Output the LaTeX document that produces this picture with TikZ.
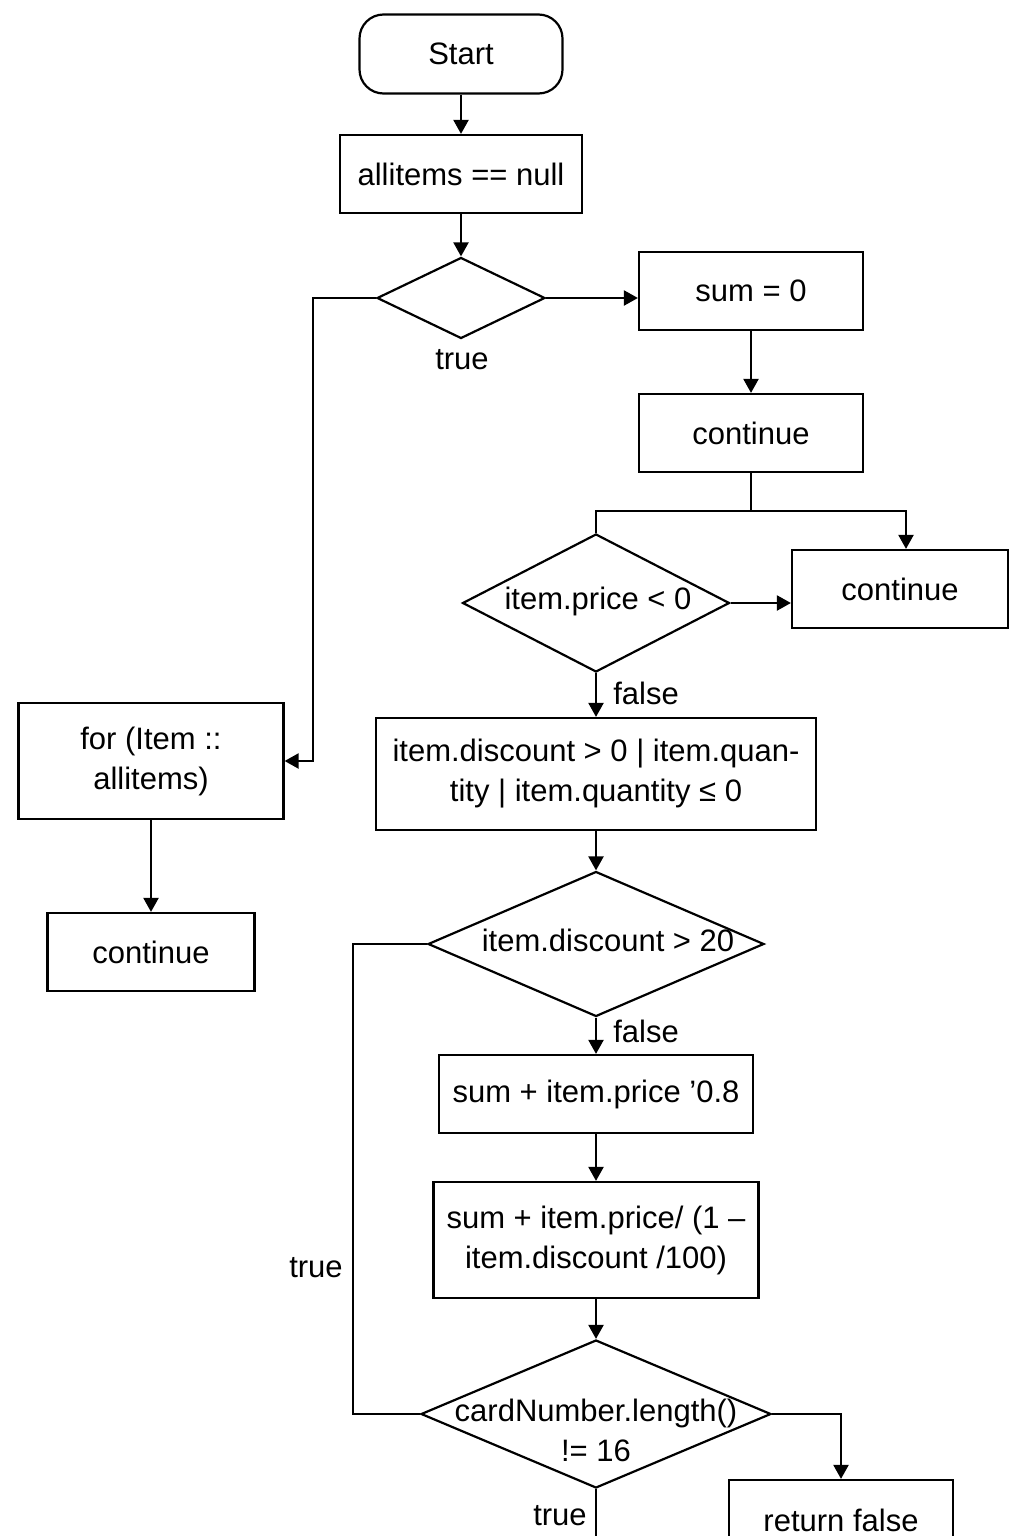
\documentclass[tikz,border=0pt]{standalone}
\usepackage{fontspec}
\setmainfont{Liberation Sans}
\usetikzlibrary{shapes.geometric,arrows.meta}

\begin{document}
\begin{tikzpicture}[x=0.5pt,y=-0.5pt,
        every node/.style={font=\fontsize{15.5}{20}\selectfont},
        box/.style={draw,line width=1.1pt,inner sep=2pt,align=center,minimum height=39pt},
        dia/.style={draw,diamond,line width=1.1pt,inner sep=0pt},
        dtext/.style={align=center,inner sep=0pt},
        arr/.style={draw,line width=1.1pt,-{Triangle[length=7pt,width=7.5pt]}},
        ln/.style={draw,line width=1.1pt}]
    \useasboundingbox (0,0) rectangle (1024,1536);
    \begin{scope}[every node/.append style={box}]
        \node[rounded corners=12pt,minimum width=101.5pt,minimum height=39.5pt] (start) at (461,54) {Start};
        \node[minimum width=121pt] (nul) at (461,174) {allitems == null};
        \node[minimum width=112pt] (sum) at (751,291) {sum = 0};
        \node[minimum width=112pt] (cont1) at (751,433) {continue};
        \node[minimum width=108pt] (cont2) at (900,589) {continue};
        \node[minimum width=220pt,minimum height=56pt] (chk) at (596,774) {item.discount > 0 | item.quan-\\tity | item.quantity ≤ 0};
        \node[minimum width=157pt] (add1) at (596,1094) {sum + item.price ’0.8};
        \node[minimum width=162.5pt,minimum height=58pt] (add2) at (596,1240) {sum + item.price/ (1 –\\item.discount /100)};
        \node[minimum width=132.5pt,minimum height=58pt] (for) at (151,761) {for (Item ::\\allitems)};
        \node[minimum width=103.5pt] (cont3) at (151,952) {continue};
        \node[minimum width=112pt,minimum height=40pt] (ret) at (841,1520) {return false};
    \end{scope}
    \begin{scope}[every node/.append style={dia}]
        \node[minimum width=84pt,minimum height=40.5pt] (d1) at (461,298) {};
        \node[minimum width=133.5pt,minimum height=69pt,
            label={[dtext,xshift=1pt,yshift=1pt]center:item.price < 0}] (d2) at (596,603) {};
        \node[minimum width=168pt,minimum height=72.5pt,
            label={[dtext,xshift=6pt,yshift=2pt]center:item.discount > 20}] (d3) at (596,944) {};
        \node[minimum width=175pt,minimum height=74pt,
            label={[dtext,yshift=-8pt]center:cardNumber.length()\\!= 16}] (d4) at (596,1414) {};
    \end{scope}
    % edge labels
    \node (t1) at (462,360) {true};
    \node (f1) at (646,693) {false};
    \node (f2) at (646,1031) {false};
    \node (t2) at (316,1268) {true};
    \node (t3) at (560,1516) {true};
    \coordinate (split) at (751,511);
    \coordinate (out) at (596,1540);
    % connectors
    \path[arr] (start) -- (nul);
    \path[arr] (nul) -- (d1);
    \path[arr] (d1.east) -- (d1.east -| sum.west);
    \path[arr] (d1.west) -- ++(-63,0) |- (for.east);
    \path[arr] (sum) -- (cont1);
    \path[ln] (cont1) -- (split);
    \path[ln] (split) -| (d2.north);
    \path[arr] (split) -| ([xshift=3pt]cont2.north);
    \path[arr] (d2.east) -- (d2.east -| cont2.west);
    \path[arr] (d2.south) -- (chk.north);
    \path[arr] (chk) -- (d3);
    \path[arr] (d3) -- (add1);
    \path[arr] (add1) -- (add2);
    \path[arr] (add2) -- (d4);
    \path[arr] (d4.east) -| (ret.north);
    \path[ln] (d4.west) -- ++(-67,0) |- (d3.west);
    \path[ln] (d4.south) -- (out);
    \path[arr] (for) -- (cont3);
\end{tikzpicture}
\end{document}
